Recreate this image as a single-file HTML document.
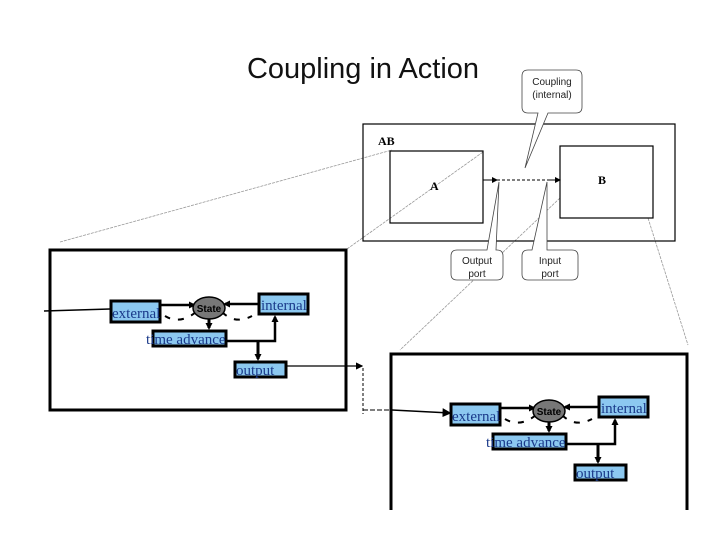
<!DOCTYPE html>
<html><head><style>
html,body{margin:0;padding:0;background:#fff;}
svg{display:block;}
.t{font-family:"Liberation Serif",serif;}
.s{font-family:"Liberation Sans",sans-serif;}
</style></head><body>
<svg width="720" height="540" viewBox="0 0 720 540" xmlns="http://www.w3.org/2000/svg">
<defs>
<marker id="a" markerWidth="6" markerHeight="6" refX="5" refY="3" orient="auto"><path d="M0,0 L6,3 L0,6z" fill="#000"/></marker>
<marker id="b" markerUnits="userSpaceOnUse" markerWidth="7" markerHeight="7" refX="5" refY="3.5" orient="auto"><path d="M0,0 L7,3.5 L0,7z" fill="#000"/></marker>
</defs>
<text x="247" y="78" class="s" font-size="29" fill="#111" textLength="232" lengthAdjust="spacingAndGlyphs">Coupling in Action</text>

<g stroke="#999" stroke-width="0.8" stroke-dasharray="3,1">
<line x1="60" y1="242" x2="392" y2="150"/>
<line x1="347" y1="249" x2="483" y2="152"/>
<line x1="560" y1="198" x2="400" y2="350"/>
<line x1="648" y1="218" x2="688" y2="345"/>
</g>

<rect x="363" y="124" width="312" height="117" fill="none" stroke="#000" stroke-width="1.2"/>
<text x="378" y="145" class="t" font-size="12" font-weight="bold">AB</text>
<rect x="390" y="151" width="93" height="72" fill="none" stroke="#000" stroke-width="1.2"/>
<text x="430" y="190" class="t" font-size="12" font-weight="bold">A</text>
<rect x="560" y="146" width="93" height="72" fill="none" stroke="#000" stroke-width="1.2"/>
<text x="598" y="184" class="t" font-size="12" font-weight="bold">B</text>
<line x1="483" y1="180" x2="497" y2="180" stroke="#000" marker-end="url(#a)"/>
<line x1="497" y1="180" x2="550" y2="180" stroke="#000" stroke-dasharray="3,2"/>
<line x1="550" y1="180" x2="560" y2="180" stroke="#000" marker-end="url(#a)"/>

<g fill="#fff" stroke="#444" stroke-width="0.8">
<path d="M528,70 H576 Q582,70 582,76 V107 Q582,113 576,113 H548 L525,168 L538,113 H528 Q522,113 522,107 V76 Q522,70 528,70z"/>
<path d="M457,250 H487 L499,182 L496,250 H497 Q503,250 503,256 V274 Q503,280 497,280 H457 Q451,280 451,274 V256 Q451,250 457,250z"/>
<path d="M528,250 H532 L547,182 L547,250 H572 Q578,250 578,256 V274 Q578,280 572,280 H528 Q522,280 522,274 V256 Q522,250 528,250z"/>
</g>
<g class="s" font-size="10" fill="#222" text-anchor="middle">
<text x="552" y="85">Coupling</text><text x="552" y="98">(internal)</text>
<text x="477" y="264">Output</text><text x="477" y="277">port</text>
<text x="550" y="264">Input</text><text x="550" y="277">port</text>
</g>

<rect x="50" y="250" width="296" height="160" fill="none" stroke="#000" stroke-width="3"/>
<line x1="44" y1="311" x2="110" y2="309" stroke="#000" stroke-width="1.5"/>
<g id="m">
<line x1="161" y1="305" x2="194" y2="305" stroke="#000" stroke-width="2.5" marker-end="url(#b)"/>
<line x1="258" y1="304" x2="225" y2="304" stroke="#000" stroke-width="2.5" marker-end="url(#b)"/>
<line x1="209" y1="318" x2="209" y2="328" stroke="#000" stroke-width="3" marker-end="url(#b)"/>
<path d="M227,341 H275 V317" fill="none" stroke="#000" stroke-width="2.5" marker-end="url(#b)"/>
<line x1="258" y1="341" x2="258" y2="359" stroke="#000" stroke-width="3" marker-end="url(#b)"/>
<path d="M196,312 Q180,325 165,316" fill="none" stroke="#000" stroke-width="2" stroke-dasharray="6,8"/>
<path d="M222,312 Q235,325 252,316" fill="none" stroke="#000" stroke-width="2" stroke-dasharray="6,8"/>
<rect x="111" y="301" width="49" height="21" fill="#8cc8f0" stroke="#000" stroke-width="3"/>
<text x="112" y="318" class="t" font-size="15" fill="#1a3a8a">external</text>
<ellipse cx="209" cy="308" rx="16" ry="11" fill="#777" stroke="#000" stroke-width="1.5"/>
<text x="209" y="312" class="s" font-size="10" font-weight="bold" text-anchor="middle">State</text>
<rect x="259" y="294" width="49" height="20" fill="#8cc8f0" stroke="#000" stroke-width="3"/>
<text x="261" y="310" class="t" font-size="15" fill="#1a3a8a">internal</text>
<rect x="153" y="331" width="73" height="15" fill="#8cc8f0" stroke="#000" stroke-width="3"/>
<text x="146" y="344" class="t" font-size="15" fill="#1a3a8a">time advance</text>
<rect x="235" y="362" width="51" height="15" fill="#8cc8f0" stroke="#000" stroke-width="3"/>
<text x="236" y="375" class="t" font-size="15" fill="#1a3a8a">output</text>
</g>
<line x1="287" y1="366" x2="362" y2="366" stroke="#000" stroke-width="1.2" marker-end="url(#a)"/>
<line x1="363" y1="368" x2="363" y2="414" stroke="#000" stroke-dasharray="3,2"/>
<line x1="363" y1="410" x2="392" y2="410" stroke="#000" stroke-dasharray="5,2"/>
<line x1="392" y1="410" x2="450" y2="413" stroke="#000" stroke-width="1.5" marker-end="url(#a)"/>

<path d="M391,510 V354 H687 V510" fill="none" stroke="#000" stroke-width="3"/>
<use href="#m" transform="translate(340,103)"/>
</svg>
</body></html>
